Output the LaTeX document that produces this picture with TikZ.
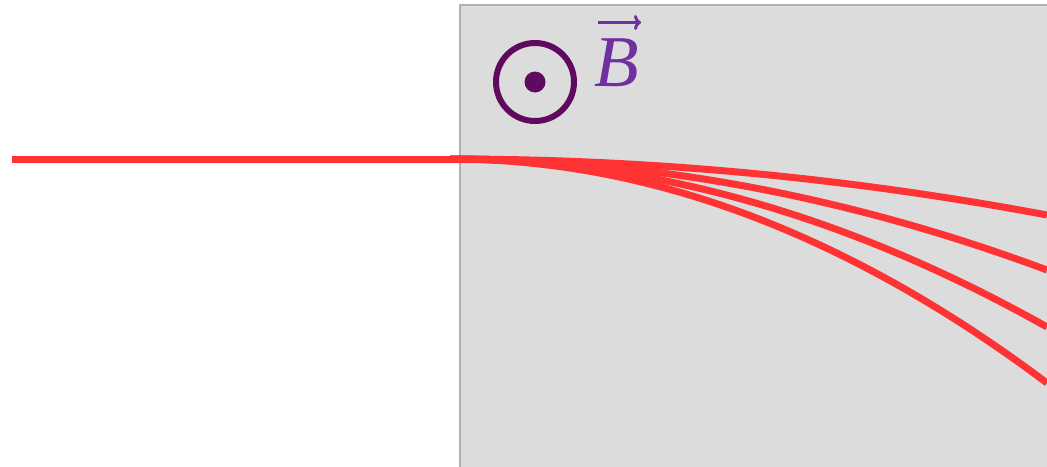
\documentclass[tikz,border=0pt]{standalone}
\usepackage{fontspec}
\usetikzlibrary{arrows.meta}
\newfontfamily\labelfont{Liberation Serif}
\definecolor{beam}{RGB}{255,51,51}
\definecolor{fieldbg}{RGB}{220,220,220}
\definecolor{fieldedge}{RGB}{178,178,178}
\definecolor{symb}{RGB}{95,10,95}
\definecolor{blabel}{RGB}{112,48,160}
\tikzset{
  beamline/.style={draw=beam, line width=7pt},
  fieldregion/.style={fill=fieldbg, draw=fieldedge, line width=2pt},
  vecarrow/.style={draw=blabel, line width=3pt, -{To[length=7pt,width=15pt]}},
}
\begin{document}
\begin{tikzpicture}[x=1pt,y=-1pt]
\useasboundingbox (0,0) rectangle (1047,466);
\fill[white] (0,0) rectangle (1047,466);
\path[fieldregion] (460,5) rectangle (1060,480);
% out-of-page symbol
\draw[symb, line width=6pt] (535,82) circle[radius=39];
\fill[symb] (535,82) circle[radius=10.5];
\node[text=blabel, inner sep=0pt, anchor=base west] (B) at (594,86)
  {\labelfont\itshape\fontsize{73}{80}\selectfont B};
\coordinate (va) at (598,22.5);
\coordinate (vb) at (641,22.5);
\draw[vecarrow] (va) -- (vb);
% beam
\coordinate (src) at (12,159);
\coordinate (edge) at (460,159);
\coordinate (start) at (450,159);
\coordinate (ca) at (649,159);
\coordinate (e1) at (1047,215);
\coordinate (e2) at (1047,270);
\coordinate (e3) at (1047,327);
\coordinate (e4) at (1047,383);
\coordinate (c1) at (848,177.7);
\coordinate (c2) at (848,196);
\coordinate (c3) at (848,215);
\coordinate (c4) at (848,233.7);
\draw[beamline] (src) -- (edge);
\foreach \k in {1,2,3,4}
  \draw[beamline] (start) .. controls (ca) and (c\k) .. (e\k);
\end{tikzpicture}
\end{document}
